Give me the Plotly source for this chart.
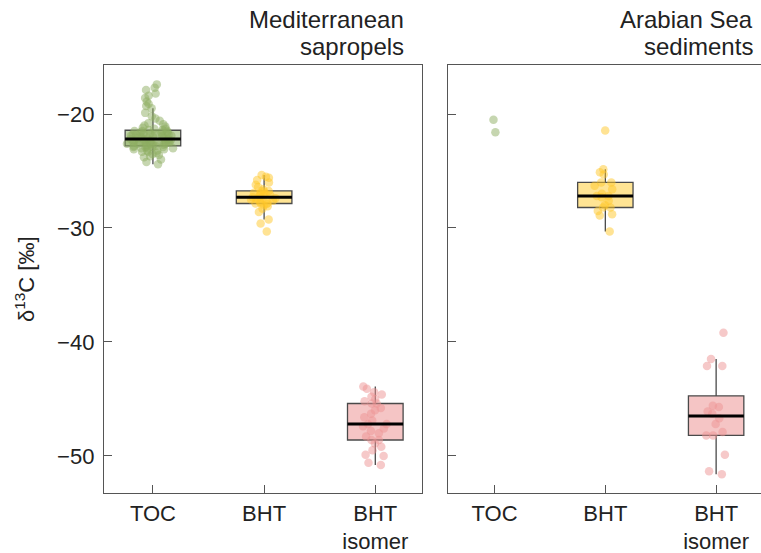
import numpy as np
import plotly.graph_objects as go

# ---------------- data ----------------
categories = ["TOC", "BHT", "BHT<br>isomer"]
panel_titles = [["Mediterranean", "sapropels"], ["Arabian Sea", "sediments"]]

med_toc = [-24.4, -24.2, -24.0, -23.8, -23.7, -23.6, -23.5, -23.4, -23.3, -23.3,
           -23.2, -23.2, -23.1, -23.1, -23.0, -23.0, -23.0, -22.9, -22.9, -22.9,
           -22.9, -22.8, -22.8, -22.8, -22.7, -22.7, -22.7, -22.6, -22.6, -22.6,
           -22.6, -22.5, -22.5, -22.5, -22.5, -22.4, -22.4, -22.4, -22.4, -22.3,
           -22.3, -22.3, -22.3, -22.2, -22.2, -22.2, -22.1, -22.1, -22.1, -22.0,
           -22.0, -22.0, -21.9, -21.9, -21.9, -21.8, -21.8, -21.8, -21.7, -21.7,
           -21.7, -21.6, -21.6, -21.6, -21.5, -21.5, -21.5, -21.4, -21.4, -21.3,
           -21.3, -21.2, -21.1, -21.0, -20.9, -20.8, -20.6, -20.4, -20.2, -19.9,
           -19.5, -19.3, -19.1, -18.9, -18.6, -18.4, -18.2, -17.9, -17.7, -17.4]
med_bht = [-30.3, -29.6, -29.25, -28.6, -28.3, -28.1, -28.0, -27.9, -27.85, -27.85,
           -27.8, -27.7, -27.6, -27.5, -27.45, -27.4, -27.35, -27.3, -27.2, -27.2,
           -27.1, -27.0, -26.95, -26.9, -26.8, -26.75, -26.75, -26.6, -26.4, -26.2,
           -26.0, -25.8, -25.6, -25.5, -25.35]
med_iso = [-50.8, -50.6, -50.0, -49.9, -49.5, -49.2, -48.9, -48.6, -48.6, -48.3,
           -48.0, -47.8, -47.6, -47.4, -47.2, -47.2, -46.9, -46.6, -46.3, -46.0,
           -45.8, -45.4, -45.4, -45.2, -45.0, -44.8, -44.6, -44.4, -44.1, -43.9]

ara_toc = [-21.6, -20.5]
ara_bht = [-30.3, -28.9, -28.8, -28.5, -28.2, -28.2, -28.0, -27.6, -27.3, -27.2,
           -27.2, -27.0, -26.6, -26.3, -26.0, -26.0, -25.3, -25.1, -24.85, -21.45]
ara_iso = [-51.6, -51.35, -49.9, -48.2, -48.2, -47.9, -47.2, -46.7, -46.3, -46.1,
           -45.7, -45.6, -42.1, -42.1, -41.5, -39.2]

panels = [[med_toc, med_bht, med_iso], [ara_toc, ara_bht, ara_iso]]
show_box = [[True, True, True], [False, True, True]]
jitters = [[1.0, 0.5, 0.5], [0.06, 0.45, 0.45]]

point_colors = ["#8DAE62", "#FFC829", "#EE9494"]
box_fills = ["rgba(141,174,98,0.55)", "rgba(255,205,60,0.55)", "rgba(236,150,150,0.55)"]

# ---------------- figure ----------------
W, H = 761, 553
fig = go.Figure()
BW = 0.5

for p, groups in enumerate(panels):
    xa = "x" if p == 0 else "x2"
    ya = "y" if p == 0 else "y2"
    for i, vals in enumerate(groups):
        v = np.array(vals, dtype=float)
        if show_box[p][i]:
            q1, med, q3 = np.percentile(v, [25, 50, 75])
            iqr = q3 - q1
            lf = v[v >= q1 - 1.5 * iqr].min()
            uf = v[v <= q3 + 1.5 * iqr].max()
            fig.add_trace(go.Box(
                x=[i], q1=[q1], median=[med], q3=[q3], lowerfence=[lf], upperfence=[uf],
                orientation="v", width=BW, whiskerwidth=0, boxpoints=False,
                fillcolor=box_fills[i], line=dict(color="#4a4a4a", width=1.3),
                xaxis=xa, yaxis=ya, showlegend=False, hoverinfo="skip"))
        # sample points (box itself invisible)
        fig.add_trace(go.Box(
            x=[i] * len(v), y=v, boxpoints="all", jitter=jitters[p][i], pointpos=0,
            width=BW, fillcolor="rgba(0,0,0,0)",
            line=dict(color="rgba(0,0,0,0)", width=0),
            marker=dict(color=point_colors[i], size=8.5, opacity=0.5, line=dict(width=0)),
            xaxis=xa, yaxis=ya, showlegend=False))
        if show_box[p][i]:
            med = np.percentile(v, 50)
            fig.add_trace(go.Scatter(
                x=[i - BW / 2, i + BW / 2], y=[med, med], mode="lines",
                line=dict(color="black", width=3), xaxis=xa, yaxis=ya,
                showlegend=False, hoverinfo="skip"))

font_family = "Liberation Sans, Arial, sans-serif"
axis_common = dict(showline=True, mirror=True, linecolor="#555555", linewidth=1.3,
                   ticks="inside", ticklen=8, tickwidth=1.3, tickcolor="#555555",
                   showgrid=False, zeroline=False, automargin=False)

fig.update_layout(
    width=W, height=H,
    margin=dict(l=0, r=0, t=65, b=60, autoexpand=False),
    paper_bgcolor="white", plot_bgcolor="white",
    font=dict(family=font_family, color="#222222", size=22),
    boxmode="overlay",
    xaxis=dict(domain=[104 / W, 422 / W], range=[-0.44, 2.42],
               tickvals=[0, 1, 2], ticktext=categories,
               tickfont=dict(size=22), **axis_common),
    xaxis2=dict(domain=[448 / W, 1.0], range=[-0.42, 2.405],
                tickvals=[0, 1, 2], ticktext=categories,
                tickfont=dict(size=22), **axis_common),
    yaxis=dict(range=[-53.25, -15.7], tickvals=[-50, -40, -30, -20],
               tickfont=dict(size=22), ticklabelstandoff=4, **axis_common),
    yaxis2=dict(range=[-53.25, -15.7], tickvals=[-50, -40, -30, -20],
                showticklabels=False, anchor="x2", **axis_common),
)
fig.update_layout(xaxis2=dict(anchor="y2"), yaxis=dict(anchor="x"))

# panel titles (right aligned, two lines)
title_right = [405 / W, 754 / W]
line_y = [(493 - 20) / 428, (493 - 46) / 428]
for p in range(2):
    for k, txt in enumerate(panel_titles[p]):
        fig.add_annotation(text=txt, xref="paper", yref="paper", x=title_right[p],
                           y=line_y[k], xanchor="right", yanchor="middle",
                           showarrow=False, borderpad=0,
                           font=dict(size=24, color="#222222"))

# y axis title
fig.add_annotation(text="δ<sup>13</sup>C [‰]", xref="paper", yref="paper",
                   x=25 / W, y=0.5, xanchor="center", yanchor="middle",
                   textangle=-90, showarrow=False, font=dict(size=22, color="#222222"))

fig.write_html("out.html")
